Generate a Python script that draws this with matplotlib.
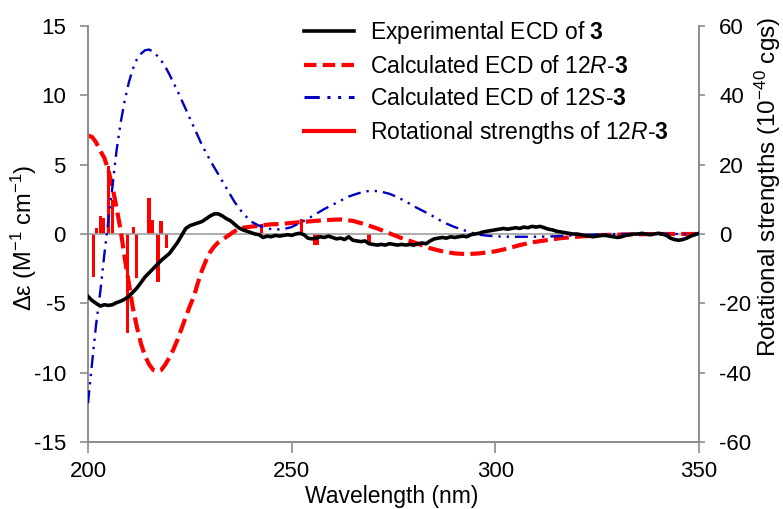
import numpy as np
import matplotlib
matplotlib.use("Agg")
import matplotlib.pyplot as plt
from matplotlib.lines import Line2D

plt.rcParams['font.family'] = ['Liberation Sans', 'DejaVu Sans']
plt.rcParams['mathtext.fontset'] = 'custom'
plt.rcParams['mathtext.rm'] = 'Liberation Sans'
plt.rcParams['mathtext.it'] = 'Liberation Sans:italic'
plt.rcParams['mathtext.bf'] = 'Liberation Sans:bold'
plt.rcParams['axes.unicode_minus'] = False

# ---------------- data ----------------
exp_wl = list(range(200, 351))
exp_de = [-4.5, -4.8, -5.0, -5.2, -5.1, -5.15, -5.1, -4.95, -4.85, -4.7,
          -4.5, -4.2, -3.9, -3.5, -3.1, -2.8, -2.5, -2.2, -1.9, -1.65,
          -1.4, -1.0, -0.6, -0.1, 0.4, 0.6, 0.7, 0.8, 0.9, 1.1,
          1.3, 1.45, 1.45, 1.3, 1.1, 0.95, 0.7, 0.45, 0.3, 0.2,
          0.1, 0.0, -0.05, -0.25, -0.15, -0.2, -0.1, -0.15, -0.1, -0.05,
          -0.1, 0.0, 0.05, -0.05, -0.3, -0.35, -0.3, -0.2, -0.25, -0.15,
          -0.25, -0.35, -0.3, -0.4, -0.2, -0.45, -0.5, -0.55, -0.5, -0.7,
          -0.75, -0.8, -0.75, -0.8, -0.7, -0.75, -0.8, -0.75, -0.8, -0.75,
          -0.8, -0.7, -0.65, -0.7, -0.5, -0.35, -0.3, -0.25, -0.3, -0.2,
          -0.25, -0.2, -0.15, -0.2, -0.05, 0.0, 0.05, 0.15, 0.2, 0.25,
          0.3, 0.35, 0.4, 0.35, 0.4, 0.45, 0.4, 0.5, 0.45, 0.55,
          0.5, 0.55, 0.45, 0.35, 0.3, 0.2, 0.15, 0.1, 0.05, 0.0,
          0.0, -0.05, -0.1, -0.15, -0.2, -0.15, -0.1, -0.1, -0.15, -0.2,
          -0.25, -0.2, -0.1, -0.05, 0.0, 0.0, 0.05, 0.0, -0.05, 0.0,
          0.05, 0.0, -0.1, -0.3, -0.4, -0.45, -0.4, -0.3, -0.15, -0.05,
          0.05]

r_wl = [200, 201, 202, 203, 204, 205, 206, 207, 208, 209, 210, 211, 212, 213,
        214, 215, 216, 217, 218, 219, 220, 221, 222, 223, 224, 225, 226, 227,
        228, 229, 230, 231, 232, 233, 234, 235, 236, 237, 238, 240, 245, 247,
        250, 254, 258, 262, 265, 268, 271, 274, 277, 280, 284, 287, 290, 293,
        296, 300, 303, 306, 309, 313, 316, 320, 326, 332, 340, 350]
r_de = [7.1, 7.0, 6.6, 6.0, 5.5, 4.6, 3.4, 1.9, 0.3, -1.7, -3.5, -5.3, -6.7, -7.9,
        -8.8, -9.4, -9.8, -9.9, -9.8, -9.4, -8.9, -8.3, -7.6, -6.8, -6.0, -5.2, -4.5, -3.5,
        -2.6, -1.9, -1.3, -0.9, -0.6, -0.4, -0.2, 0.0, 0.2, 0.35, 0.45, 0.53, 0.7, 0.72,
        0.8, 0.9, 1.0, 1.05, 0.95, 0.7, 0.4, 0.05, -0.3, -0.6, -1.03, -1.25, -1.4, -1.45,
        -1.4, -1.25, -1.05, -0.8, -0.6, -0.43, -0.3, -0.2, -0.08, -0.03, 0.0, 0.0]

s_wl = [200, 201, 202, 203, 204, 205, 206, 207, 208, 209, 210, 211, 212, 213,
        214, 215, 216, 217, 218, 219, 220, 222, 224, 226, 228, 230, 232, 234,
        236, 238, 240, 242, 244, 246, 248, 250, 252, 254, 256, 258, 260, 262,
        264, 266, 268, 270, 272, 274, 276, 278, 280, 282, 284, 286, 288, 290,
        292, 294, 296, 298, 300, 304, 308, 312, 316, 320, 325, 330, 350]
s_de = [-12.2, -9.3, -6.5, -4.2, -1.5, 1.0, 3.4, 6.0, 8.0, 9.6, 10.9, 11.9, 12.6, 13.0,
        13.25, 13.3, 13.15, 12.85, 12.5, 12.05, 11.5, 10.3, 9.0, 7.7, 6.4, 5.3, 4.3, 3.3,
        2.3, 1.5, 0.9, 0.6, 0.4, 0.32, 0.35, 0.5, 0.8, 1.1, 1.45, 1.8, 2.1, 2.4,
        2.7, 2.9, 3.07, 3.12, 3.05, 2.9, 2.65, 2.35, 2.0, 1.7, 1.4, 1.05, 0.75, 0.5,
        0.3, 0.1, -0.05, -0.12, -0.17, -0.2, -0.2, -0.19, -0.15, -0.08, -0.03, 0.0, 0.0]

rot_wl = [201.3, 202.1, 203.0, 203.8, 205.1, 206.0, 209.7, 211.1, 211.9, 215.0,
          215.7, 217.2, 217.9, 219.3, 242.6, 252.4, 255.6, 256.3, 269.0]
rot_str = [-12.3, 1.6, 5.2, 4.5, 19.5, 9.8, -28.6, 1.9, -12.8, 10.3,
           4.0, -13.8, 3.8, -4.1, 2.9, 4.2, -3.2, -3.2, -2.2]

labels = ['Experimental ECD of $\\mathbf{3}$',
          'Calculated ECD of 12$\\mathit{R}$-$\\mathbf{3}$',
          'Calculated ECD of 12$\\mathit{S}$-$\\mathbf{3}$',
          'Rotational strengths of 12$\\mathit{R}$-$\\mathbf{3}$']

RED = '#FF0000'
BLUE = '#0000C0'
GRAY = '#8C8C8C'

# ---------------- figure ----------------
W, H = 783, 509
fig = plt.figure(figsize=(W / 100, H / 100), dpi=100)
L, R, B, T = 88, 699, 442, 26
ax = fig.add_axes([L / W, 1 - B / H, (R - L) / W, (B - T) / H])
ax2 = ax.twinx()
ax.set_zorder(ax2.get_zorder() + 1)
ax.patch.set_visible(False)

# bars on right axis
ax2.bar(rot_wl, rot_str, width=0.8, color=RED, linewidth=0)
ax2.set_ylim(-60, 60)
ax2.set_yticks(range(-60, 61, 20))

ax.axhline(0, color='#A0A0A0', lw=1.2, zorder=1)
ax.plot(r_wl, r_de, color=RED, lw=3, dashes=(3.6, 1.5), zorder=2)
ax.plot(s_wl, s_de, color=BLUE, lw=1.7, dashes=(5.5, 2.5, 1, 2.5, 1, 2.5), zorder=3)
ax.plot(exp_wl, exp_de, color='black', lw=2.6, zorder=4)

ax.set_xlim(200, 350)
ax.set_ylim(-15, 15)
ax.set_xticks([200, 250, 300, 350])
ax.set_yticks(range(-15, 16, 5))

for a in (ax, ax2):
    a.spines['top'].set_visible(False)
    for s in ('left', 'right', 'bottom'):
        a.spines[s].set_color(GRAY)
        a.spines[s].set_linewidth(1.2)

TICK_FS = 16
ax.tick_params(axis='y', direction='out', length=6, width=1.2, color=GRAY,
               labelsize=TICK_FS, pad=10)
ax.tick_params(axis='x', direction='out', length=8, width=1.2, color=GRAY,
               labelsize=TICK_FS, pad=6)
ax2.tick_params(axis='y', direction='out', length=4.5, width=1.2, color=GRAY,
                labelsize=TICK_FS, pad=10)

fig.text(392 / W, 1 - 497 / H, 'Wavelength (nm)', fontsize=16.5,
         ha='center', va='center')
fig.text(24 / W, 1 - 238 / H, 'Δε (M$^{-1}$ cm$^{-1}$)', fontsize=17,
         rotation=90, ha='center', va='center')
fig.text(768 / W, 1 - 187 / H, 'Rotational strengths (10$^{-40}$ cgs)', fontsize=17.5,
         rotation=90, ha='center', va='center')

handles = [Line2D([], [], color='black', lw=2.6),
           Line2D([], [], color=RED, lw=3, dashes=(3.0, 1.5)),
           Line2D([], [], color=BLUE, lw=2.2, dashes=(5, 2.5, 1, 2.5, 1, 2.5)),
           Line2D([], [], color=RED, lw=3)]
leg = ax.legend(handles, labels, loc='upper left',
                bbox_to_anchor=(304 / W, 1 - 19 / H), bbox_transform=fig.transFigure,
                frameon=False, fontsize=16.5, borderpad=0, borderaxespad=0,
                handlelength=2.2, handletextpad=0.68, labelspacing=0.39)

fig.savefig('out.png', dpi=100)
